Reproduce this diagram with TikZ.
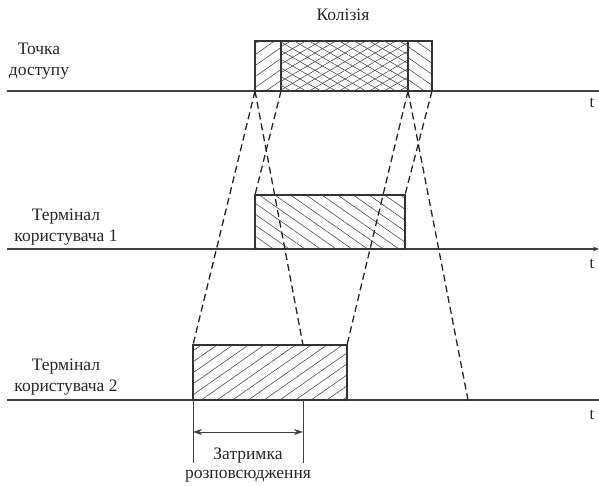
\documentclass[tikz,border=0pt]{standalone}
\usepackage{fontspec}
\setmainfont{Liberation Serif}
\usepackage{tikz}
\usetikzlibrary{arrows.meta, patterns.meta}

\begin{document}
\begin{tikzpicture}[
  x=1pt, y=1pt,
  axis/.style={line width=1.5pt, black!75},
  frame/.style={draw=black!80, line width=1.3pt, inner sep=0pt, outer sep=0pt,
                anchor=south west},
  hatchA/.style={pattern={Lines[angle=35, distance=9pt, line width=0.6pt]},
                 pattern color=black!70},
  hatchB/.style={pattern={Lines[angle=-35, distance=9pt, line width=0.6pt]},
                 pattern color=black!70},
  cross/.style={pattern={Lines[angle=30, distance=7.5pt, line width=0.6pt]},
                pattern color=black!70,
                postaction={pattern={Lines[angle=-30, distance=7.5pt, line width=0.6pt]},
                            pattern color=black!70}},
  prop/.style={line width=1.3pt, black!85, dash pattern=on 7pt off 4pt},
  dim/.style={line width=0.8pt, black!75},
  lbl/.style={font=\fontsize{17.5}{21}\selectfont, align=center, text=black!85},
  tlbl/.style={font=\fontsize{16.5}{20}\selectfont, text=black!85}
]
\useasboundingbox (0,0) rectangle (599,486);

% time axes
\coordinate (apA) at (7,395);  \coordinate (apB) at (599,395);
\coordinate (t1A) at (7,237);  \coordinate (t1B) at (599,237);
\coordinate (t2A) at (7,86);   \coordinate (t2B) at (599,86);
\draw[axis] (apA) -- (apB);
\draw[axis, -{Stealth[length=6pt, width=5pt]}] (t1A) -- (t1B);
\draw[axis] (t2A) -- (t2B);
\node[tlbl] (tap) at (592,383) {t};
\node[tlbl] (tt1) at (592,222) {t};
\node[tlbl] (tt2) at (592,71) {t};

% stations
\node[lbl] (nap) at (39,425) {Точка\\доступу};
\node[lbl] (nt1) at (66,259) {Термінал\\користувача 1};
\node[lbl] (nt2) at (66,109) {Термінал\\користувача 2};

% transmissions
\node[frame, hatchA, minimum width=26pt, minimum height=50pt] (apL) at (255,395) {};
\node[frame, cross, minimum width=127pt, minimum height=50pt] (apM) at (281,395) {};
\node[frame, hatchB, minimum width=24pt, minimum height=50pt] (apR) at (408,395) {};
\node[lbl] (coll) at (343,471) {Колізія};
\node[frame, hatchB, minimum width=150pt, minimum height=54pt] (t1) at (255,237) {};
\node[frame, hatchA, minimum width=154pt, minimum height=55pt] (t2) at (193,86) {};

% propagation
\coordinate (dl) at (303,141);
\coordinate (fr) at (468,86);
\draw[prop] (apL.south west) -- (t2.north west);
\draw[prop] (apL.south west) -- (dl);
\draw[prop] (apL.south east) -- (t1.north west);
\draw[prop] (apR.south west) -- (t2.north east);
\draw[prop] (apR.south west) -- (fr);
\draw[prop] (apR.south east) -- (t1.north east);

% delay
\coordinate (d0) at (303,86);
\coordinate (d1) at (193,23);
\coordinate (d2) at (303,23);
\coordinate (a1) at (193,54);
\coordinate (a2) at (303,54);
\draw[dim] (t2.south west) -- (d1);
\draw[dim] (d0) -- (d2);
\draw[dim, {Stealth[length=9pt, width=6pt]}-{Stealth[length=9pt, width=6pt]}] (a1) -- (a2);
\node[lbl, font=\fontsize{17.5}{19}\selectfont] (delay) at (248,21) {Затримка\\розповсюдження};
\end{tikzpicture}
\end{document}
